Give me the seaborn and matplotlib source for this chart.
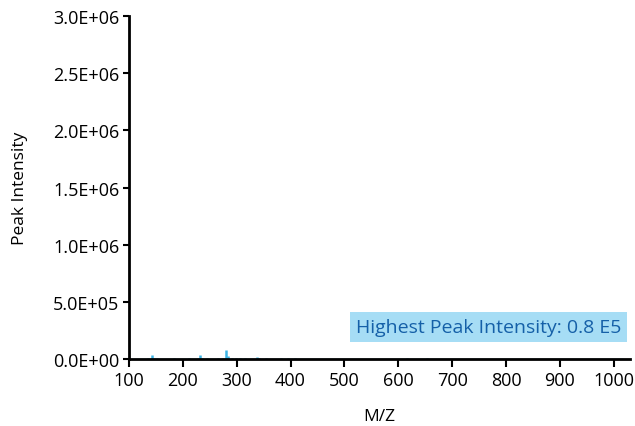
"""Mass spectrum of a low-intensity sample, drawn as stick peaks."""

import matplotlib
matplotlib.use("Agg")
import matplotlib.pyplot as plt
import pandas as pd
import seaborn as sns

# peak list (m/z, intensity)
mz = [104, 112, 121, 128, 136, 142, 146, 152, 160, 171, 183, 195, 204, 212,
      221, 228, 232, 236, 245, 256, 266, 274, 280, 284, 291, 298, 306, 316,
      327, 337, 342, 355, 369, 382, 396, 408, 421, 440, 462, 485, 508, 531,
      556, 580, 603, 616, 634, 653, 676, 700, 722, 748, 772, 797, 823, 850,
      877, 905, 933, 962, 990, 1018]
intensity = [3000, 2500, 4000, 3000, 5000, 35000, 12000, 6000, 4000, 3000,
             5000, 4000, 3500, 5000, 4000, 9000, 36000, 12000, 5000, 4000,
             7000, 10000, 80000, 30000, 9000, 6000, 12000, 5000, 4000, 16000,
             7000, 5000, 4000, 4500, 5000, 9000, 4000, 3500, 4000, 3000, 3500,
             3000, 4000, 3000, 3500, 7000, 3000, 6500, 3000, 3500, 2500, 3000,
             2500, 3000, 2500, 3000, 2500, 2500, 2500, 2000, 2500, 2000]

x_ticks = [100, 200, 300, 400, 500, 600, 700, 800, 900, 1000]
y_ticks = [0, 500000, 1000000, 1500000, 2000000, 2500000, 3000000]
y_labels = ["0.0E+00", "5.0E+05", "1.0E+06", "1.5E+06", "2.0E+06", "2.5E+06", "3.0E+06"]
note = "Highest Peak Intensity: 0.8 E5"

sns.set_style("ticks")
plt.rcParams["font.family"] = ["Open Sans", "DejaVu Sans"]

df = pd.DataFrame({"mz": mz, "intensity": intensity})

fig = plt.figure(figsize=(6.35, 4.27), dpi=100)
ax = fig.add_axes([0.203, 0.157, 0.789, 0.803])

# faint baseline then the sticks
sns.lineplot(data=df, x="mz", y=[0] * len(df), ax=ax, color="#3cb4e5", lw=1.0)
ax.vlines(df["mz"], 0, df["intensity"], color="#3cb4e5", lw=1.8)

ax.set_xlim(100, 1030)
ax.set_ylim(0, 3000000)
ax.set_xticks(x_ticks)
ax.set_yticks(y_ticks)
ax.set_yticklabels(y_labels)
ax.tick_params(axis="both", labelsize=13, colors="black", width=1.5)
ax.tick_params(axis="x", length=6, pad=3)
ax.tick_params(axis="y", length=4, pad=3)

for side in ["left", "bottom"]:
    ax.spines[side].set_linewidth(2)
    ax.spines[side].set_color("black")
sns.despine(ax=ax)

ax.set_xlabel("M/Z", fontsize=12.5, labelpad=13, color="black")
ax.set_ylabel("Peak Intensity", fontsize=12.5, labelpad=18, color="black")

ax.text(0.982, 0.093, note, transform=ax.transAxes, ha="right", va="center",
        fontsize=14, color="#1560a8",
        bbox=dict(boxstyle="square,pad=0.3", fc="#a6ddf5", ec="none"))

fig.savefig("out.png", dpi=100)
